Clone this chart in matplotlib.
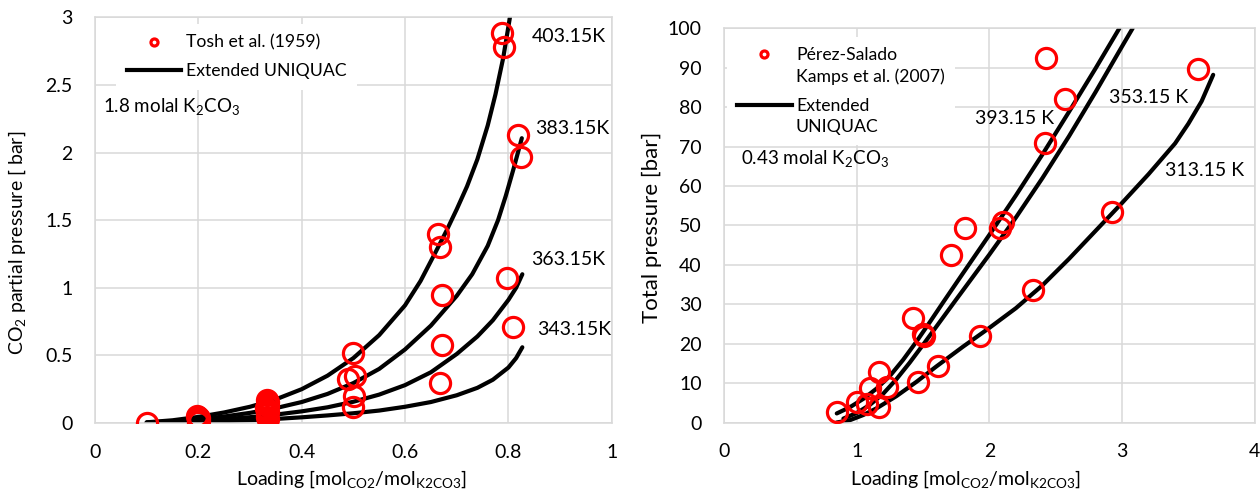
import matplotlib
matplotlib.use('Agg')
import matplotlib.pyplot as plt
import numpy as np
from matplotlib.legend_handler import HandlerLine2D

plt.rcParams.update({'font.family': 'Lato',
                     'mathtext.fontset': 'custom',
                     'mathtext.rm': 'Lato',
                     'mathtext.default': 'regular'})

# ---- left panel: 1.8 molal K2CO3, Tosh et al. (1959)
tosh_x = [0.1,
          0.198, 0.2, 0.202, 0.199, 0.201, 0.2,
          0.332, 0.334, 0.333, 0.335, 0.331, 0.333, 0.334, 0.332, 0.333, 0.335,
          0.499, 0.503, 0.49, 0.501, 0.499,
          0.663, 0.668, 0.672, 0.672, 0.668,
          0.788, 0.792, 0.818, 0.824, 0.797, 0.808]
tosh_y = [0.003,
          0.055, 0.045, 0.035, 0.027, 0.018, 0.01,
          0.17, 0.155, 0.14, 0.125, 0.11, 0.095, 0.08, 0.065, 0.045, 0.03,
          0.515, 0.35, 0.325, 0.202, 0.121,
          1.395, 1.304, 0.947, 0.577, 0.298,
          2.887, 2.779, 2.13, 1.97, 1.075, 0.712]

# Extended UNIQUAC curves
t403_x = [0.1, 0.15, 0.2, 0.25, 0.3, 0.35, 0.4, 0.45, 0.5, 0.55, 0.6, 0.63, 0.66, 0.68,
          0.7, 0.72, 0.74, 0.76, 0.775, 0.79, 0.803]
t403_y = [0.005, 0.02, 0.045, 0.078, 0.12, 0.175, 0.25, 0.35, 0.48, 0.65, 0.87, 1.05, 1.27, 1.42,
          1.58, 1.75, 1.95, 2.2, 2.43, 2.7, 3.0]
t383_x = [0.1, 0.15, 0.2, 0.25, 0.3, 0.35, 0.4, 0.45, 0.5, 0.55, 0.6, 0.65, 0.7, 0.73,
          0.76, 0.78, 0.795, 0.81, 0.826]
t383_y = [0.003, 0.012, 0.028, 0.048, 0.075, 0.11, 0.155, 0.215, 0.295, 0.40, 0.544, 0.72, 0.94, 1.1,
          1.31, 1.5, 1.68, 1.88, 2.106]
t363_x = [0.1, 0.15, 0.2, 0.25, 0.3, 0.35, 0.4, 0.45, 0.5, 0.55, 0.6, 0.65, 0.7, 0.74,
          0.77, 0.8, 0.815, 0.827]
t363_y = [0.002, 0.007, 0.016, 0.028, 0.043, 0.062, 0.086, 0.116, 0.157, 0.21, 0.28, 0.375, 0.51, 0.64,
          0.76, 0.91, 1.0, 1.1]
t343_x = [0.1, 0.15, 0.2, 0.25, 0.3, 0.35, 0.4, 0.45, 0.5, 0.55, 0.6, 0.65, 0.7, 0.74,
          0.77, 0.8, 0.815, 0.827]
t343_y = [0.001, 0.004, 0.008, 0.014, 0.021, 0.03, 0.042, 0.056, 0.072, 0.092, 0.12, 0.155, 0.205, 0.26,
          0.32, 0.41, 0.48, 0.56]

left_labels = ['403.15K', '383.15K', '363.15K', '343.15K']
left_label_x = [0.846, 0.852, 0.844, 0.855]
left_label_y = [2.86, 2.18, 1.21, 0.693]
left_xticks = ['0', '0.2', '0.4', '0.6', '0.8', '1']
left_yticks = ['0', '0.5', '1', '1.5', '2', '2.5', '3']

# ---- right panel: 0.43 molal K2CO3, Perez-Salado Kamps et al. (2007)
kamps_x = [0.854, 1.0, 1.075, 1.10, 1.17, 1.226, 1.17, 1.422, 1.502, 1.51, 1.46, 1.61,
           1.708, 1.82, 2.08, 2.105, 1.93, 2.33, 2.43, 2.57, 2.42, 2.926, 3.574]
kamps_y = [2.74, 5.28, 4.6, 8.83, 12.9, 9.1, 4.0, 26.4, 22.4, 22.0, 10.4, 14.4,
           42.5, 49.4, 49.3, 50.8, 22.0, 33.6, 92.4, 82.0, 70.8, 53.5, 89.6]

t393_x = [0.85, 0.95, 1.05, 1.15, 1.25, 1.35, 1.45, 1.55, 1.65, 1.8, 2.0, 2.2, 2.4, 2.6, 2.8, 2.98]
t393_y = [2.3, 3.9, 6.0, 8.6, 11.8, 15.9, 20.5, 25.4, 30.4, 37.8, 47.6, 57.6, 68.0, 78.8, 89.8, 100.0]
t353_x = [0.9, 1.0, 1.1, 1.2, 1.3, 1.4, 1.5, 1.6, 1.75, 2.0, 2.2, 2.4, 2.6, 2.8, 3.0, 3.08]
t353_y = [1.0, 2.4, 4.5, 7.3, 11.0, 15.2, 19.7, 24.3, 31.2, 42.6, 52.0, 62.0, 72.6, 83.8, 95.4, 100.0]
t313_x = [0.85, 0.95, 1.05, 1.15, 1.3, 1.45, 1.6, 1.8, 2.0, 2.2, 2.4, 2.6, 2.8, 3.0, 3.2, 3.4, 3.5, 3.6, 3.687]
t313_y = [0.0, 0.6, 1.9, 3.6, 6.7, 10.3, 14.2, 19.2, 24.0, 29.0, 34.8, 41.5, 48.6, 55.7, 63.0, 70.8, 75.8, 81.5, 88.2]

right_labels = ['393.15 K', '353.15 K', '313.15 K']
right_label_x = [1.891, 2.90, 3.323]
right_label_y = [77.0, 82.5, 64.05]
right_xticks = ['0', '1', '2', '3', '4']
right_yticks = [str(v) for v in range(0, 101, 10)]

grid_col = '#d9d9d9'
red = '#ff0000'
lw = 3.0
ms = 14.5
mew = 2.3
leg_fs = 12.7


class FirstLineHandler(HandlerLine2D):
    # put the handle next to the first line of a two-line label
    def create_artists(self, legend, orig_handle, xdescent, ydescent, width,
                       height, fontsize, trans):
        arts = super().create_artists(legend, orig_handle, xdescent, ydescent,
                                      width, height, fontsize, trans)
        for a in arts:
            a.set_ydata(np.asarray(a.get_ydata()) + 0.68 * fontsize)
        return arts


def style_axes(ax, xt, yt, xlabels, ylabels):
    ax.set_xticks(xt)
    ax.set_xticklabels(xlabels)
    ax.set_yticks(yt)
    ax.set_yticklabels(ylabels)
    ax.tick_params(length=0, labelsize=14)
    ax.tick_params(axis='x', pad=15)
    ax.tick_params(axis='y', pad=16)
    ax.grid(True, color=grid_col, linewidth=1.1)
    ax.set_axisbelow(True)
    for s in ax.spines.values():
        s.set_color(grid_col)
        s.set_linewidth(1.1)


fig = plt.figure(figsize=(12.6, 4.93), dpi=100)

# left
ax1 = fig.add_axes([0.0754, 0.142, 0.4101, 0.8229])
for cx, cy in [(t403_x, t403_y), (t383_x, t383_y), (t363_x, t363_y), (t343_x, t343_y)]:
    ax1.plot(cx, cy, '-', color='k', linewidth=lw, solid_capstyle='round',
             solid_joinstyle='round', zorder=2)
ax1.plot(tosh_x, tosh_y, 'o', mfc='none', mec=red, ms=ms, mew=mew, zorder=3)
ax1.set_xlim(0, 1)
ax1.set_ylim(0, 3)
style_axes(ax1, np.arange(0, 1.01, 0.2), np.arange(0, 3.01, 0.5), left_xticks, left_yticks)
for lab, lx, ly in zip(left_labels, left_label_x, left_label_y):
    ax1.text(lx, ly, lab, fontsize=14, ha='left', va='center')
ax1.text(0.016, 2.298, '1.8 molal K$_2$CO$_3$', fontsize=13.5, ha='left', va='baseline')
ax1.set_xlabel('Loading [mol$_{CO2}$/mol$_{K2CO3}$]', fontsize=14)
ax1.set_ylabel('CO$_2$ partial pressure [ bar]', fontsize=14)
ax1.xaxis.set_label_coords(0.497, -0.113)
ax1.yaxis.set_label_coords(-0.13, 0.444)
h1 = plt.Line2D([], [], linestyle='none', marker='o', mfc='none', mec=red, ms=ms, mew=mew)
h2 = plt.Line2D([], [], color='k', linewidth=lw)
ax1.legend([h1, h2], ['Tosh et al. (1959)', 'Extended UNIQUAC'], loc='upper left',
           bbox_to_anchor=(0.041, 0.983), borderaxespad=0, borderpad=0.6,
           fontsize=leg_fs, handlelength=3.07, handletextpad=0.3, labelspacing=0.7,
           markerscale=0.35, numpoints=1, frameon=True, fancybox=False,
           facecolor='white', edgecolor='none', framealpha=1)

# right
ax2 = fig.add_axes([0.5746, 0.143, 0.4212, 0.7996])
for cx, cy in [(t393_x, t393_y), (t353_x, t353_y), (t313_x, t313_y)]:
    ax2.plot(cx, cy, '-', color='k', linewidth=lw, solid_capstyle='round',
             solid_joinstyle='round', zorder=2)
ax2.plot(kamps_x, kamps_y, 'o', mfc='none', mec=red, ms=ms, mew=mew, zorder=3)
ax2.set_xlim(0, 4)
ax2.set_ylim(0, 100)
style_axes(ax2, np.arange(0, 4.01, 1), np.arange(0, 101, 10), right_xticks, right_yticks)
for lab, lx, ly in zip(right_labels, right_label_x, right_label_y):
    ax2.text(lx, ly, lab, fontsize=14, ha='left', va='center')
ax2.text(0.126, 65.6, '0.43 molal K$_2$CO$_3$', fontsize=13.5, ha='left', va='baseline')
ax2.set_xlabel('Loading [mol$_{CO2}$/mol$_{K2CO3}$]', fontsize=14)
ax2.set_ylabel('Total pressure [bar]', fontsize=16)
ax2.xaxis.set_label_coords(0.455, -0.117)
ax2.yaxis.set_label_coords(-0.117, 0.495)
h3 = plt.Line2D([], [], linestyle='none', marker='o', mfc='none', mec=red, ms=ms, mew=mew)
h4 = plt.Line2D([], [], color='k', linewidth=lw)
leg2 = ax2.legend([h3, h4], ['Pérez-Salado\nKamps et al. (2007)', 'Extended\nUNIQUAC'],
                  loc='upper left', bbox_to_anchor=(0.005, 0.979), borderaxespad=0,
                  borderpad=0.6, fontsize=leg_fs, handlelength=3.09, handletextpad=0.24,
                  labelspacing=0.76, markerscale=0.35, numpoints=1, frameon=True,
                  fancybox=False, facecolor='white', edgecolor='none', framealpha=1,
                  handler_map={plt.Line2D: FirstLineHandler()})
for t in leg2.get_texts():
    t.set_linespacing(1.36)

plt.savefig('out.png', dpi=100)
